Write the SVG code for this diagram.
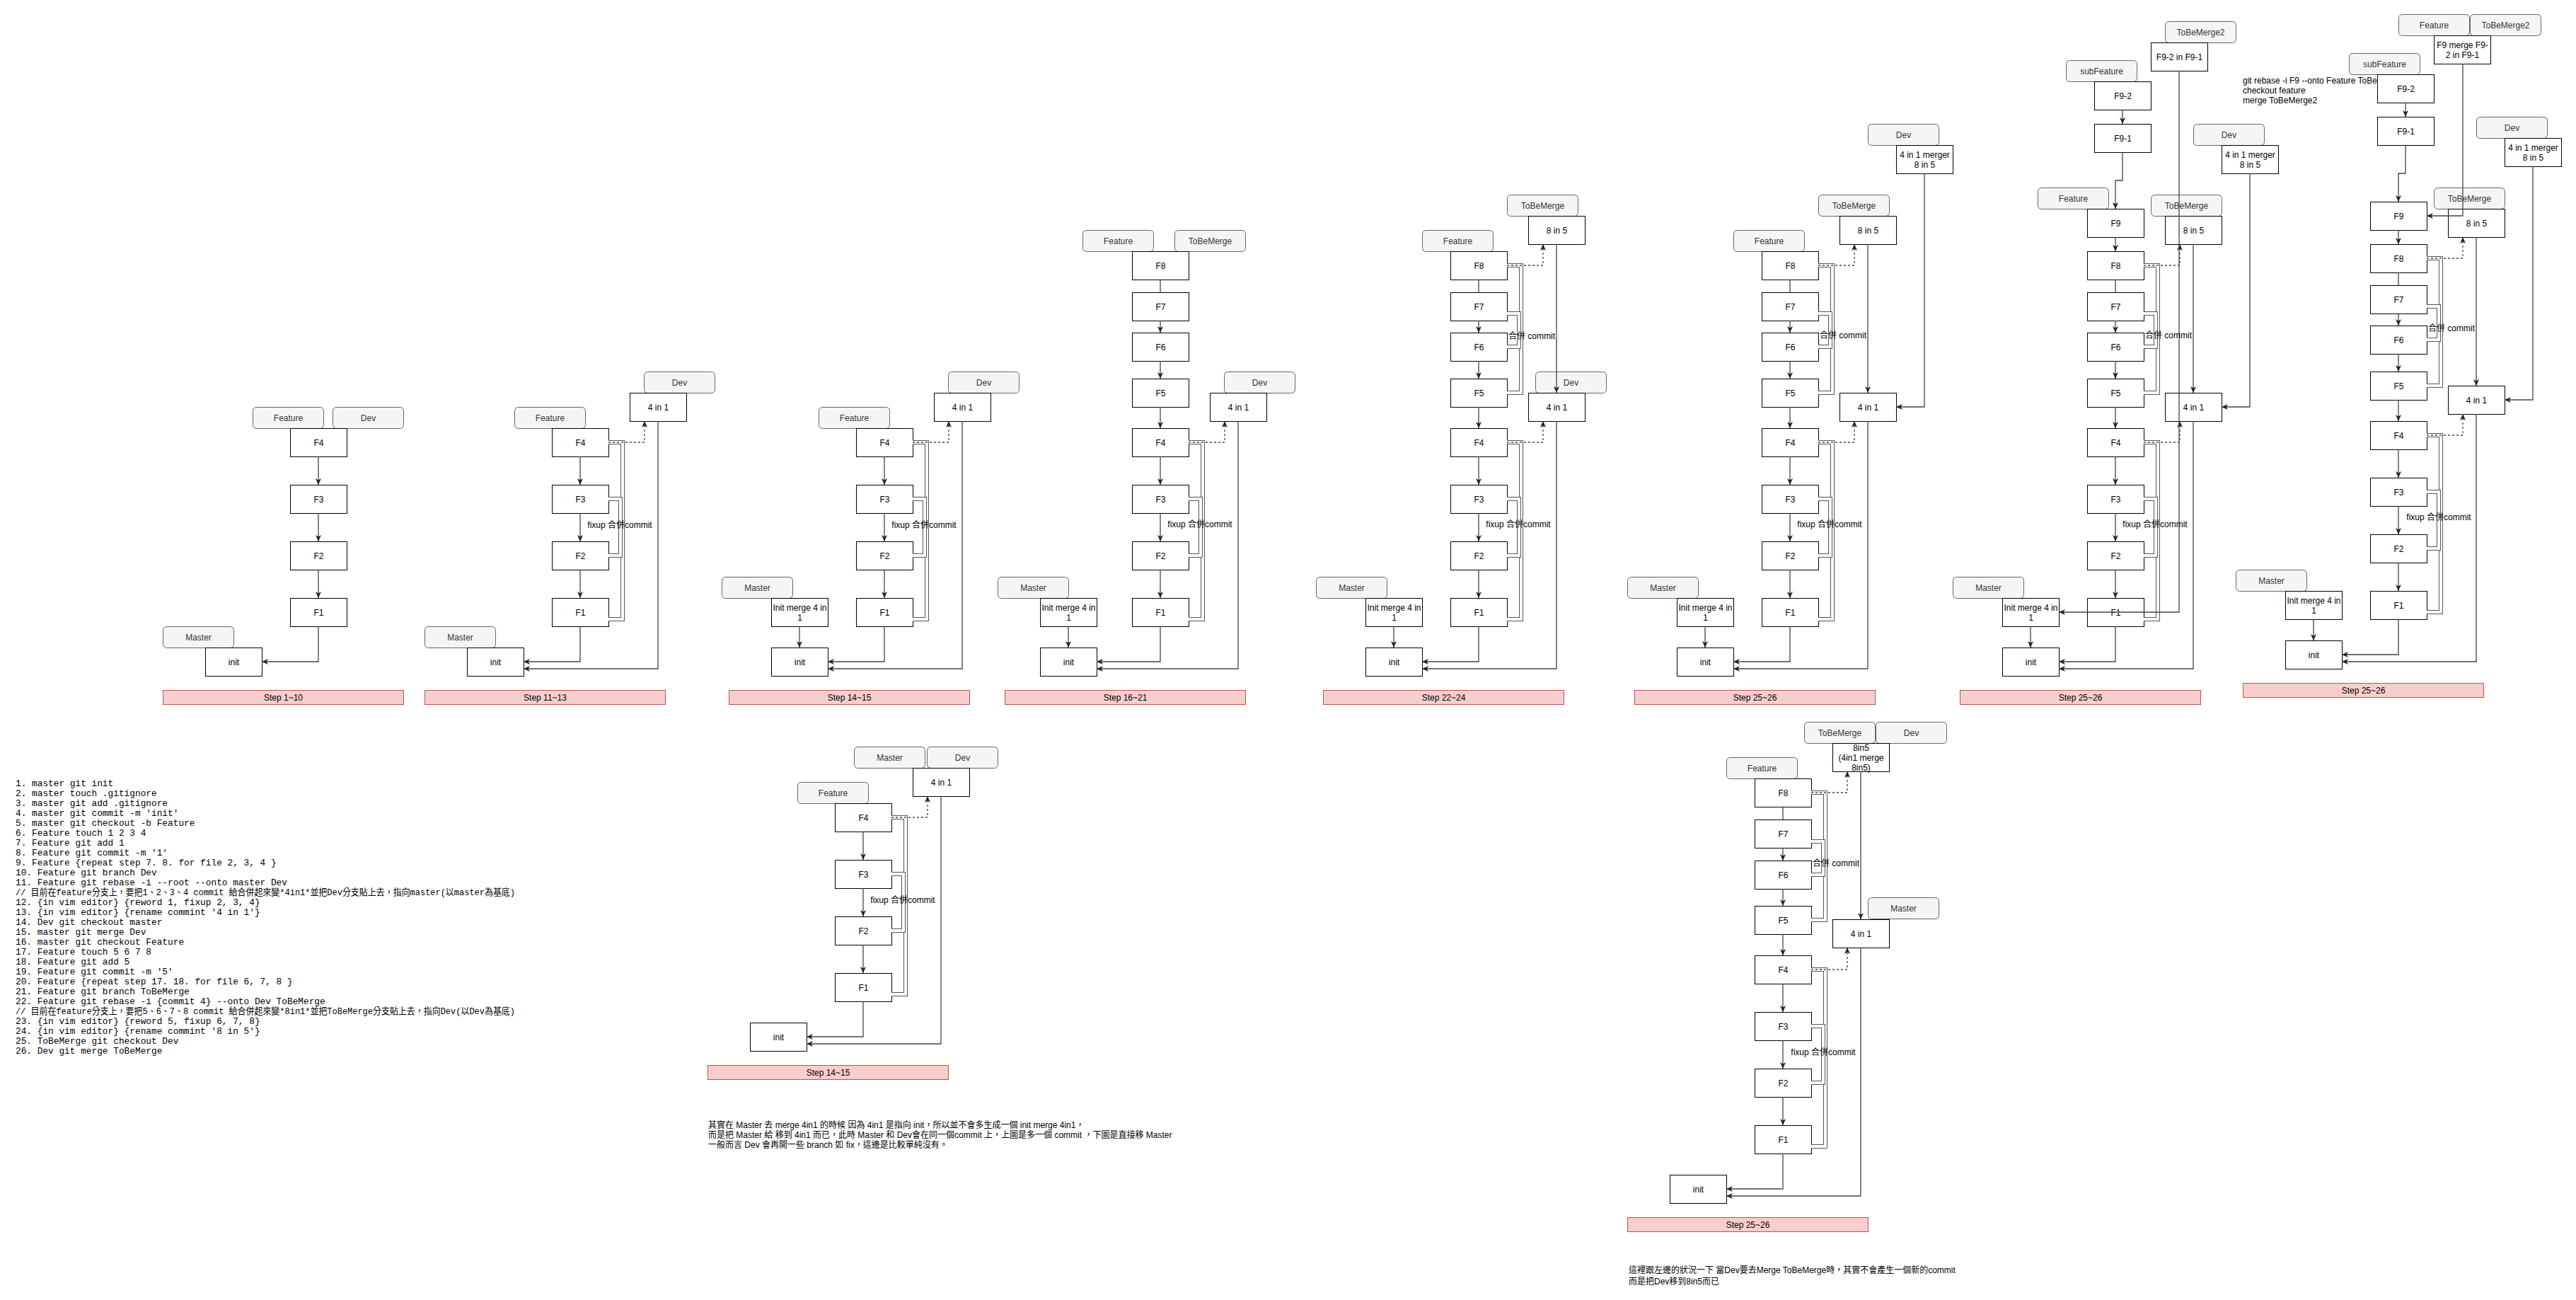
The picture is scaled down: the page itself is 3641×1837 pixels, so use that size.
<svg xmlns="http://www.w3.org/2000/svg" width="3641" height="1837" viewBox="0 0 3641 1837">
<defs>
<marker id="arr" markerUnits="userSpaceOnUse" markerWidth="9" markerHeight="8" viewBox="0 0 9 8" refX="9" refY="4" orient="auto"><path d="M0,0 L9,4 L0,8 L2.5,4 z" fill="#222"/></marker>
<style>
text{font-family:"Liberation Sans","Noto Sans CJK TC",sans-serif;font-size:12px;text-anchor:middle;dominant-baseline:central}
.l rect{fill:#f5f5f5;stroke:#666;stroke-width:1}
.l text{fill:#333}
.n rect{fill:#fff;stroke:#000;stroke-width:1}
.n text{fill:#000}
.s rect{fill:#f8cecc;stroke:#b85450;stroke-width:1}
.s text{fill:#000}
.e{fill:none;stroke:#444;stroke-width:1.3}
.a{marker-end:url(#arr)}
.d{stroke-dasharray:3 3}
.k1{fill:none;stroke:#555;stroke-width:6}
.k2{fill:none;stroke:#fff;stroke-width:4}
.el{fill:#000}
.para text{text-anchor:start;dominant-baseline:auto}
.code text{font-family:"Liberation Mono","Noto Sans CJK TC",monospace;font-size:12.8px;text-anchor:start;dominant-baseline:auto;fill:#000}
</style>
</defs>
<rect width="3641" height="1837" fill="#fff"/>

<g id="code-list" class="code">
<text x="22" y="1111">1. master git init</text>
<text x="22" y="1125">2. master touch .gitignore</text>
<text x="22" y="1139">3. master git add .gitignore</text>
<text x="22" y="1153">4. master git commit -m 'init'</text>
<text x="22" y="1167">5. master git checkout -b Feature</text>
<text x="22" y="1181">6. Feature touch 1 2 3 4</text>
<text x="22" y="1195">7. Feature git add 1</text>
<text x="22" y="1209">8. Feature git commit -m '1'</text>
<text x="22" y="1223">9. Feature {repeat step 7. 8. for file 2, 3, 4 }</text>
<text x="22" y="1237">10. Feature git branch Dev</text>
<text x="22" y="1251">11. Feature git rebase -i --root --onto master Dev</text>
<text x="22" y="1265" textLength="706" lengthAdjust="spacingAndGlyphs">// 目前在feature分支上，要把1、2、3、4 commit 給合併起來變*4in1*並把Dev分支貼上去，指向master(以master為基底)</text>
<text x="22" y="1279">12. {in vim editor} {reword 1, fixup 2, 3, 4}</text>
<text x="22" y="1293">13. {in vim editor} {rename commint '4 in 1'}</text>
<text x="22" y="1307">14. Dev git checkout master</text>
<text x="22" y="1321">15. master git merge Dev</text>
<text x="22" y="1335">16. master git checkout Feature</text>
<text x="22" y="1349">17. Feature touch 5 6 7 8</text>
<text x="22" y="1363">18. Feature git add 5</text>
<text x="22" y="1377">19. Feature git commit -m '5'</text>
<text x="22" y="1391">20. Feature {repeat step 17. 18. for file 6, 7, 8 }</text>
<text x="22" y="1405">21. Feature git branch ToBeMerge</text>
<text x="22" y="1419">22. Feature git rebase -i {commit 4} --onto Dev ToBeMerge</text>
<text x="22" y="1433" textLength="706" lengthAdjust="spacingAndGlyphs">// 目前在feature分支上，要把5、6、7、8 commit 給合併起來變*8in1*並把ToBeMerge分支貼上去，指向Dev(以Dev為基底)</text>
<text x="22" y="1447">23. {in vim editor} {reword 5, fixup 6, 7, 8}</text>
<text x="22" y="1461">24. {in vim editor} {rename commint '8 in 5'}</text>
<text x="22" y="1475">25. ToBeMerge git checkout Dev</text>
<text x="22" y="1489">26. Dev git merge ToBeMerge</text>
</g>

<g id="note-master" class="para">
<text x="1001" y="1594">其實在 Master 去 merge 4in1 的時候 因為 4in1 是指向 init，所以並不會多生成一個 init merge 4in1，</text>
<text x="1001" y="1608">而是把 Master 給 移到 4in1 而已，此時 Master 和 Dev會在同一個commit 上，上圖是多一個 commit ，下圖是直接移 Master</text>
<text x="1001" y="1622">一般而言 Dev 會再開一些 branch 如 fix，這邊是比較單純沒有。</text>
</g>
<g id="note-dev" class="para">
<text x="2302" y="1799">這裡跟左邊的狀況一下 當Dev要去Merge ToBeMerge時，其實不會產生一個新的commit</text>
<text x="2302" y="1815">而是把Dev移到8in5而已</text>
</g>
<g id="note-rebase" class="para">
<text x="3170" y="118">git rebase -i F9 --onto Feature ToBeMerge2</text>
<text x="3170" y="132">checkout feature</text>
<text x="3170" y="146">merge ToBeMerge2</text>
</g>

<g id="nodes" transform="translate(0.5 0.5)">
<!-- Panel 1 -->
<g id="p1-lbl-feature" class="l"><rect x="357" y="575" width="100" height="30" rx="5"/><text x="407" y="590">Feature</text></g>
<g id="p1-lbl-dev" class="l"><rect x="470" y="575" width="100" height="30" rx="5"/><text x="520" y="590">Dev</text></g>
<g id="p1-lbl-master" class="l"><rect x="230" y="885" width="100" height="30" rx="5"/><text x="280" y="900">Master</text></g>
<g id="p1-F4" class="n"><rect x="410" y="605" width="80" height="40"/><text x="450" y="625">F4</text></g>
<g id="p1-F3" class="n"><rect x="410" y="685" width="80" height="40"/><text x="450" y="705">F3</text></g>
<g id="p1-F2" class="n"><rect x="410" y="765" width="80" height="40"/><text x="450" y="785">F2</text></g>
<g id="p1-F1" class="n"><rect x="410" y="845" width="80" height="40"/><text x="450" y="865">F1</text></g>
<g id="p1-init" class="n"><rect x="290" y="915" width="80" height="40"/><text x="330" y="935">init</text></g>
<g id="p1-step" class="s"><rect x="230" y="975" width="340" height="20"/><text x="400" y="985">Step 1~10</text></g>

<!-- Panel 2 -->
<g id="p2-lbl-feature" class="l"><rect x="727" y="575" width="100" height="30" rx="5"/><text x="777" y="590">Feature</text></g>
<g id="p2-lbl-master" class="l"><rect x="600" y="885" width="100" height="30" rx="5"/><text x="650" y="900">Master</text></g>
<g id="p2-lbl-dev" class="l"><rect x="910" y="525" width="100" height="30" rx="5"/><text x="960" y="540">Dev</text></g>
<g id="p2-4in1" class="n"><rect x="890" y="555" width="80" height="40"/><text x="930" y="575">4 in 1</text></g>
<g id="p2-F4" class="n"><rect x="780" y="605" width="80" height="40"/><text x="820" y="625">F4</text></g>
<g id="p2-F3" class="n"><rect x="780" y="685" width="80" height="40"/><text x="820" y="705">F3</text></g>
<g id="p2-F2" class="n"><rect x="780" y="765" width="80" height="40"/><text x="820" y="785">F2</text></g>
<g id="p2-F1" class="n"><rect x="780" y="845" width="80" height="40"/><text x="820" y="865">F1</text></g>
<g id="p2-init" class="n"><rect x="660" y="915" width="80" height="40"/><text x="700" y="935">init</text></g>
<g id="p2-step" class="s"><rect x="600" y="975" width="340" height="20"/><text x="770" y="985">Step 11~13</text></g>

<!-- Panel 3 -->
<g id="p3-lbl-feature" class="l"><rect x="1157" y="575" width="100" height="30" rx="5"/><text x="1207" y="590">Feature</text></g>
<g id="p3-lbl-master" class="l"><rect x="1020" y="815" width="100" height="30" rx="5"/><text x="1070" y="830">Master</text></g>
<g id="p3-lbl-dev" class="l"><rect x="1340" y="525" width="100" height="30" rx="5"/><text x="1390" y="540">Dev</text></g>
<g id="p3-4in1" class="n"><rect x="1320" y="555" width="80" height="40"/><text x="1360" y="575">4 in 1</text></g>
<g id="p3-F4" class="n"><rect x="1210" y="605" width="80" height="40"/><text x="1250" y="625">F4</text></g>
<g id="p3-F3" class="n"><rect x="1210" y="685" width="80" height="40"/><text x="1250" y="705">F3</text></g>
<g id="p3-F2" class="n"><rect x="1210" y="765" width="80" height="40"/><text x="1250" y="785">F2</text></g>
<g id="p3-F1" class="n"><rect x="1210" y="845" width="80" height="40"/><text x="1250" y="865">F1</text></g>
<g id="p3-initmerge" class="n"><rect x="1090" y="845" width="80" height="40"/><text x="1130" y="858">Init merge 4 in</text><text x="1130" y="872">1</text></g>
<g id="p3-init" class="n"><rect x="1090" y="915" width="80" height="40"/><text x="1130" y="935">init</text></g>
<g id="p3-step" class="s"><rect x="1030" y="975" width="340" height="20"/><text x="1200" y="985">Step 14~15</text></g>

<!-- Panel 4 -->
<g id="p4-lbl-feature" class="l"><rect x="1530" y="325" width="100" height="30" rx="5"/><text x="1580" y="340">Feature</text></g>
<g id="p4-lbl-tobemerge" class="l"><rect x="1660" y="325" width="100" height="30" rx="5"/><text x="1710" y="340">ToBeMerge</text></g>
<g id="p4-lbl-master" class="l"><rect x="1410" y="815" width="100" height="30" rx="5"/><text x="1460" y="830">Master</text></g>
<g id="p4-lbl-dev" class="l"><rect x="1730" y="525" width="100" height="30" rx="5"/><text x="1780" y="540">Dev</text></g>
<g id="p4-F8" class="n"><rect x="1600" y="355" width="80" height="40"/><text x="1640" y="375">F8</text></g>
<g id="p4-F7" class="n"><rect x="1600" y="413" width="80" height="40"/><text x="1640" y="433">F7</text></g>
<g id="p4-F6" class="n"><rect x="1600" y="470" width="80" height="40"/><text x="1640" y="490">F6</text></g>
<g id="p4-F5" class="n"><rect x="1600" y="535" width="80" height="40"/><text x="1640" y="555">F5</text></g>
<g id="p4-F4" class="n"><rect x="1600" y="605" width="80" height="40"/><text x="1640" y="625">F4</text></g>
<g id="p4-F3" class="n"><rect x="1600" y="685" width="80" height="40"/><text x="1640" y="705">F3</text></g>
<g id="p4-F2" class="n"><rect x="1600" y="765" width="80" height="40"/><text x="1640" y="785">F2</text></g>
<g id="p4-F1" class="n"><rect x="1600" y="845" width="80" height="40"/><text x="1640" y="865">F1</text></g>
<g id="p4-4in1" class="n"><rect x="1710" y="555" width="80" height="40"/><text x="1750" y="575">4 in 1</text></g>
<g id="p4-initmerge" class="n"><rect x="1470" y="845" width="80" height="40"/><text x="1510" y="858">Init merge 4 in</text><text x="1510" y="872">1</text></g>
<g id="p4-init" class="n"><rect x="1470" y="915" width="80" height="40"/><text x="1510" y="935">init</text></g>
<g id="p4-step" class="s"><rect x="1420" y="975" width="340" height="20"/><text x="1590" y="985">Step 16~21</text></g>

<!-- Panel 5 -->
<g id="p5-lbl-tobemerge" class="l"><rect x="2130" y="275" width="100" height="30" rx="5"/><text x="2180" y="290">ToBeMerge</text></g>
<g id="p5-lbl-feature" class="l"><rect x="2010" y="325" width="100" height="30" rx="5"/><text x="2060" y="340">Feature</text></g>
<g id="p5-lbl-dev" class="l"><rect x="2170" y="525" width="100" height="30" rx="5"/><text x="2220" y="540">Dev</text></g>
<g id="p5-lbl-master" class="l"><rect x="1860" y="815" width="100" height="30" rx="5"/><text x="1910" y="830">Master</text></g>
<g id="p5-8in5" class="n"><rect x="2160" y="305" width="80" height="40"/><text x="2200" y="325">8 in 5</text></g>
<g id="p5-F8" class="n"><rect x="2050" y="355" width="80" height="40"/><text x="2090" y="375">F8</text></g>
<g id="p5-F7" class="n"><rect x="2050" y="413" width="80" height="40"/><text x="2090" y="433">F7</text></g>
<g id="p5-F6" class="n"><rect x="2050" y="470" width="80" height="40"/><text x="2090" y="490">F6</text></g>
<g id="p5-F5" class="n"><rect x="2050" y="535" width="80" height="40"/><text x="2090" y="555">F5</text></g>
<g id="p5-F4" class="n"><rect x="2050" y="605" width="80" height="40"/><text x="2090" y="625">F4</text></g>
<g id="p5-F3" class="n"><rect x="2050" y="685" width="80" height="40"/><text x="2090" y="705">F3</text></g>
<g id="p5-F2" class="n"><rect x="2050" y="765" width="80" height="40"/><text x="2090" y="785">F2</text></g>
<g id="p5-F1" class="n"><rect x="2050" y="845" width="80" height="40"/><text x="2090" y="865">F1</text></g>
<g id="p5-4in1" class="n"><rect x="2160" y="555" width="80" height="40"/><text x="2200" y="575">4 in 1</text></g>
<g id="p5-initmerge" class="n"><rect x="1930" y="845" width="80" height="40"/><text x="1970" y="858">Init merge 4 in</text><text x="1970" y="872">1</text></g>
<g id="p5-init" class="n"><rect x="1930" y="915" width="80" height="40"/><text x="1970" y="935">init</text></g>
<g id="p5-step" class="s"><rect x="1870" y="975" width="340" height="20"/><text x="2040" y="985">Step 22~24</text></g>

<!-- Panel 6 -->
<g id="p6-lbl-dev" class="l"><rect x="2640" y="175" width="100" height="30" rx="5"/><text x="2690" y="190">Dev</text></g>
<g id="p6-lbl-tobemerge" class="l"><rect x="2570" y="275" width="100" height="30" rx="5"/><text x="2620" y="290">ToBeMerge</text></g>
<g id="p6-lbl-feature" class="l"><rect x="2450" y="325" width="100" height="30" rx="5"/><text x="2500" y="340">Feature</text></g>
<g id="p6-lbl-master" class="l"><rect x="2300" y="815" width="100" height="30" rx="5"/><text x="2350" y="830">Master</text></g>
<g id="p6-merger" class="n"><rect x="2680" y="205" width="80" height="40"/><text x="2720" y="218">4 in 1 merger</text><text x="2720" y="232">8 in 5</text></g>
<g id="p6-8in5" class="n"><rect x="2600" y="305" width="80" height="40"/><text x="2640" y="325">8 in 5</text></g>
<g id="p6-F8" class="n"><rect x="2490" y="355" width="80" height="40"/><text x="2530" y="375">F8</text></g>
<g id="p6-F7" class="n"><rect x="2490" y="413" width="80" height="40"/><text x="2530" y="433">F7</text></g>
<g id="p6-F6" class="n"><rect x="2490" y="470" width="80" height="40"/><text x="2530" y="490">F6</text></g>
<g id="p6-F5" class="n"><rect x="2490" y="535" width="80" height="40"/><text x="2530" y="555">F5</text></g>
<g id="p6-F4" class="n"><rect x="2490" y="605" width="80" height="40"/><text x="2530" y="625">F4</text></g>
<g id="p6-F3" class="n"><rect x="2490" y="685" width="80" height="40"/><text x="2530" y="705">F3</text></g>
<g id="p6-F2" class="n"><rect x="2490" y="765" width="80" height="40"/><text x="2530" y="785">F2</text></g>
<g id="p6-F1" class="n"><rect x="2490" y="845" width="80" height="40"/><text x="2530" y="865">F1</text></g>
<g id="p6-4in1" class="n"><rect x="2600" y="555" width="80" height="40"/><text x="2640" y="575">4 in 1</text></g>
<g id="p6-initmerge" class="n"><rect x="2370" y="845" width="80" height="40"/><text x="2410" y="858">Init merge 4 in</text><text x="2410" y="872">1</text></g>
<g id="p6-init" class="n"><rect x="2370" y="915" width="80" height="40"/><text x="2410" y="935">init</text></g>
<g id="p6-step" class="s"><rect x="2310" y="975" width="340" height="20"/><text x="2480" y="985">Step 25~26</text></g>

<!-- Panel 7 -->
<g id="p7-lbl-tobemerge2" class="l"><rect x="3060" y="30" width="100" height="30" rx="5"/><text x="3110" y="45">ToBeMerge2</text></g>
<g id="p7-lbl-subfeature" class="l"><rect x="2920" y="85" width="100" height="30" rx="5"/><text x="2970" y="100">subFeature</text></g>
<g id="p7-lbl-feature" class="l"><rect x="2880" y="265" width="100" height="30" rx="5"/><text x="2930" y="280">Feature</text></g>
<g id="p7-lbl-dev" class="l"><rect x="3100" y="175" width="100" height="30" rx="5"/><text x="3150" y="190">Dev</text></g>
<g id="p7-lbl-tobemerge" class="l"><rect x="3040" y="275" width="100" height="30" rx="5"/><text x="3090" y="290">ToBeMerge</text></g>
<g id="p7-lbl-master" class="l"><rect x="2760" y="815" width="100" height="30" rx="5"/><text x="2810" y="830">Master</text></g>
<g id="p7-F92inF91" class="n"><rect x="3040" y="60" width="80" height="40"/><text x="3080" y="80">F9-2 in F9-1</text></g>
<g id="p7-F9-2" class="n"><rect x="2960" y="115" width="80" height="40"/><text x="3000" y="135">F9-2</text></g>
<g id="p7-F9-1" class="n"><rect x="2960" y="175" width="80" height="40"/><text x="3000" y="195">F9-1</text></g>
<g id="p7-merger" class="n"><rect x="3140" y="205" width="80" height="40"/><text x="3180" y="218">4 in 1 merger</text><text x="3180" y="232">8 in 5</text></g>
<g id="p7-F9" class="n"><rect x="2950" y="295" width="80" height="40"/><text x="2990" y="315">F9</text></g>
<g id="p7-F8" class="n"><rect x="2950" y="355" width="80" height="40"/><text x="2990" y="375">F8</text></g>
<g id="p7-F7" class="n"><rect x="2950" y="413" width="80" height="40"/><text x="2990" y="433">F7</text></g>
<g id="p7-F6" class="n"><rect x="2950" y="470" width="80" height="40"/><text x="2990" y="490">F6</text></g>
<g id="p7-F5" class="n"><rect x="2950" y="535" width="80" height="40"/><text x="2990" y="555">F5</text></g>
<g id="p7-F4" class="n"><rect x="2950" y="605" width="80" height="40"/><text x="2990" y="625">F4</text></g>
<g id="p7-F3" class="n"><rect x="2950" y="685" width="80" height="40"/><text x="2990" y="705">F3</text></g>
<g id="p7-F2" class="n"><rect x="2950" y="765" width="80" height="40"/><text x="2990" y="785">F2</text></g>
<g id="p7-F1" class="n"><rect x="2950" y="845" width="80" height="40"/><text x="2990" y="865">F1</text></g>
<g id="p7-8in5" class="n"><rect x="3060" y="305" width="80" height="40"/><text x="3100" y="325">8 in 5</text></g>
<g id="p7-4in1" class="n"><rect x="3060" y="555" width="80" height="40"/><text x="3100" y="575">4 in 1</text></g>
<g id="p7-initmerge" class="n"><rect x="2830" y="845" width="80" height="40"/><text x="2870" y="858">Init merge 4 in</text><text x="2870" y="872">1</text></g>
<g id="p7-init" class="n"><rect x="2830" y="915" width="80" height="40"/><text x="2870" y="935">init</text></g>
<g id="p7-step" class="s"><rect x="2770" y="975" width="340" height="20"/><text x="2940" y="985">Step 25~26</text></g>

<!-- Panel 8 -->
<g id="p8-lbl-feature" class="l"><rect x="3390" y="20" width="100" height="30" rx="5"/><text x="3440" y="35">Feature</text></g>
<g id="p8-lbl-tobemerge2" class="l"><rect x="3491" y="20" width="100" height="30" rx="5"/><text x="3541" y="35">ToBeMerge2</text></g>
<g id="p8-lbl-subfeature" class="l"><rect x="3320" y="75" width="100" height="30" rx="5"/><text x="3370" y="90">subFeature</text></g>
<g id="p8-lbl-dev" class="l"><rect x="3500" y="165" width="100" height="30" rx="5"/><text x="3550" y="180">Dev</text></g>
<g id="p8-lbl-tobemerge" class="l"><rect x="3440" y="265" width="100" height="30" rx="5"/><text x="3490" y="280">ToBeMerge</text></g>
<g id="p8-lbl-master" class="l"><rect x="3160" y="805" width="100" height="30" rx="5"/><text x="3210" y="820">Master</text></g>
<g id="p8-F9merge" class="n"><rect x="3440" y="50" width="80" height="40"/><text x="3480" y="63">F9 merge F9-</text><text x="3480" y="77">2 in F9-1</text></g>
<g id="p8-F9-2" class="n"><rect x="3360" y="105" width="80" height="40"/><text x="3400" y="125">F9-2</text></g>
<g id="p8-F9-1" class="n"><rect x="3360" y="165" width="80" height="40"/><text x="3400" y="185">F9-1</text></g>
<g id="p8-merger" class="n"><rect x="3540" y="195" width="80" height="40"/><text x="3580" y="208">4 in 1 merger</text><text x="3580" y="222">8 in 5</text></g>
<g id="p8-8in5" class="n"><rect x="3460" y="295" width="80" height="40"/><text x="3500" y="315">8 in 5</text></g>
<g id="p8-F9" class="n"><rect x="3350" y="285" width="80" height="40"/><text x="3390" y="305">F9</text></g>
<g id="p8-F8" class="n"><rect x="3350" y="345" width="80" height="40"/><text x="3390" y="365">F8</text></g>
<g id="p8-F7" class="n"><rect x="3350" y="403" width="80" height="40"/><text x="3390" y="423">F7</text></g>
<g id="p8-F6" class="n"><rect x="3350" y="460" width="80" height="40"/><text x="3390" y="480">F6</text></g>
<g id="p8-F5" class="n"><rect x="3350" y="525" width="80" height="40"/><text x="3390" y="545">F5</text></g>
<g id="p8-F4" class="n"><rect x="3350" y="595" width="80" height="40"/><text x="3390" y="615">F4</text></g>
<g id="p8-F3" class="n"><rect x="3350" y="675" width="80" height="40"/><text x="3390" y="695">F3</text></g>
<g id="p8-F2" class="n"><rect x="3350" y="755" width="80" height="40"/><text x="3390" y="775">F2</text></g>
<g id="p8-F1" class="n"><rect x="3350" y="835" width="80" height="40"/><text x="3390" y="855">F1</text></g>
<g id="p8-4in1" class="n"><rect x="3460" y="545" width="80" height="40"/><text x="3500" y="565">4 in 1</text></g>
<g id="p8-initmerge" class="n"><rect x="3230" y="835" width="80" height="40"/><text x="3270" y="848">Init merge 4 in</text><text x="3270" y="862">1</text></g>
<g id="p8-init" class="n"><rect x="3230" y="905" width="80" height="40"/><text x="3270" y="925">init</text></g>
<g id="p8-step" class="s"><rect x="3170" y="965" width="340" height="20"/><text x="3340" y="975">Step 25~26</text></g>

<!-- Panel 9 -->
<g id="p9-lbl-master" class="l"><rect x="1207" y="1055" width="100" height="30" rx="5"/><text x="1257" y="1070">Master</text></g>
<g id="p9-lbl-dev" class="l"><rect x="1310" y="1055" width="100" height="30" rx="5"/><text x="1360" y="1070">Dev</text></g>
<g id="p9-lbl-feature" class="l"><rect x="1127" y="1105" width="100" height="30" rx="5"/><text x="1177" y="1120">Feature</text></g>
<g id="p9-4in1" class="n"><rect x="1290" y="1085" width="80" height="40"/><text x="1330" y="1105">4 in 1</text></g>
<g id="p9-F4" class="n"><rect x="1180" y="1135" width="80" height="40"/><text x="1220" y="1155">F4</text></g>
<g id="p9-F3" class="n"><rect x="1180" y="1215" width="80" height="40"/><text x="1220" y="1235">F3</text></g>
<g id="p9-F2" class="n"><rect x="1180" y="1295" width="80" height="40"/><text x="1220" y="1315">F2</text></g>
<g id="p9-F1" class="n"><rect x="1180" y="1375" width="80" height="40"/><text x="1220" y="1395">F1</text></g>
<g id="p9-init" class="n"><rect x="1060" y="1445" width="80" height="40"/><text x="1100" y="1465">init</text></g>
<g id="p9-step" class="s"><rect x="1000" y="1505" width="340" height="20"/><text x="1170" y="1515">Step 14~15</text></g>

<!-- Panel 10 -->
<g id="p10-lbl-tobemerge" class="l"><rect x="2550" y="1020" width="100" height="30" rx="5"/><text x="2600" y="1035">ToBeMerge</text></g>
<g id="p10-lbl-dev" class="l"><rect x="2651" y="1020" width="100" height="30" rx="5"/><text x="2701" y="1035">Dev</text></g>
<g id="p10-lbl-feature" class="l"><rect x="2440" y="1070" width="100" height="30" rx="5"/><text x="2490" y="1085">Feature</text></g>
<g id="p10-lbl-master" class="l"><rect x="2640" y="1268" width="100" height="30" rx="5"/><text x="2690" y="1283">Master</text></g>
<g id="p10-8in5merge" class="n"><rect x="2590" y="1050" width="80" height="40"/><text x="2630" y="1056">8in5</text><text x="2630" y="1070">(4in1 merge</text><text x="2630" y="1084">8in5)</text></g>
<g id="p10-F8" class="n"><rect x="2480" y="1100" width="80" height="40"/><text x="2520" y="1120">F8</text></g>
<g id="p10-F7" class="n"><rect x="2480" y="1158" width="80" height="40"/><text x="2520" y="1178">F7</text></g>
<g id="p10-F6" class="n"><rect x="2480" y="1216" width="80" height="40"/><text x="2520" y="1236">F6</text></g>
<g id="p10-F5" class="n"><rect x="2480" y="1280" width="80" height="40"/><text x="2520" y="1300">F5</text></g>
<g id="p10-F4" class="n"><rect x="2480" y="1350" width="80" height="40"/><text x="2520" y="1370">F4</text></g>
<g id="p10-F3" class="n"><rect x="2480" y="1430" width="80" height="40"/><text x="2520" y="1450">F3</text></g>
<g id="p10-F2" class="n"><rect x="2480" y="1510" width="80" height="40"/><text x="2520" y="1530">F2</text></g>
<g id="p10-F1" class="n"><rect x="2480" y="1590" width="80" height="40"/><text x="2520" y="1610">F1</text></g>
<g id="p10-4in1" class="n"><rect x="2590" y="1299" width="80" height="40"/><text x="2630" y="1319">4 in 1</text></g>
<g id="p10-init" class="n"><rect x="2360" y="1660" width="80" height="40"/><text x="2400" y="1680">init</text></g>
<g id="p10-step" class="s"><rect x="2300" y="1720" width="340" height="20"/><text x="2470" y="1730">Step 25~26</text></g>
</g>

<g id="connectors">
<g id="links">
<path class="k1" d="M860,625H880V875H860"/><path class="k2" d="M860,625H880V875H860"/>
<path class="k1" d="M860,705H877V785H860"/><path class="k2" d="M860,705H877V785H860"/>
<path class="k1" d="M1290,625H1310V875H1290"/><path class="k2" d="M1290,625H1310V875H1290"/>
<path class="k1" d="M1290,705H1307V785H1290"/><path class="k2" d="M1290,705H1307V785H1290"/>
<path class="k1" d="M1680,625H1700V875H1680"/><path class="k2" d="M1680,625H1700V875H1680"/>
<path class="k1" d="M1680,705H1697V785H1680"/><path class="k2" d="M1680,705H1697V785H1680"/>
<path class="k1" d="M2130,375H2150V555H2130"/><path class="k2" d="M2130,375H2150V555H2130"/>
<path class="k1" d="M2130,443H2147V490H2130"/><path class="k2" d="M2130,443H2147V490H2130"/>
<path class="k1" d="M2130,625H2150V875H2130"/><path class="k2" d="M2130,625H2150V875H2130"/>
<path class="k1" d="M2130,705H2147V785H2130"/><path class="k2" d="M2130,705H2147V785H2130"/>
<path class="k1" d="M2570,375H2590V555H2570"/><path class="k2" d="M2570,375H2590V555H2570"/>
<path class="k1" d="M2570,443H2587V490H2570"/><path class="k2" d="M2570,443H2587V490H2570"/>
<path class="k1" d="M2570,625H2590V875H2570"/><path class="k2" d="M2570,625H2590V875H2570"/>
<path class="k1" d="M2570,705H2587V785H2570"/><path class="k2" d="M2570,705H2587V785H2570"/>
<path class="k1" d="M3030,375H3050V555H3030"/><path class="k2" d="M3030,375H3050V555H3030"/>
<path class="k1" d="M3030,443H3047V490H3030"/><path class="k2" d="M3030,443H3047V490H3030"/>
<path class="k1" d="M3030,625H3050V875H3030"/><path class="k2" d="M3030,625H3050V875H3030"/>
<path class="k1" d="M3030,705H3047V785H3030"/><path class="k2" d="M3030,705H3047V785H3030"/>
<path class="k1" d="M3430,365H3450V545H3430"/><path class="k2" d="M3430,365H3450V545H3430"/>
<path class="k1" d="M3430,433H3447V480H3430"/><path class="k2" d="M3430,433H3447V480H3430"/>
<path class="k1" d="M3430,615H3450V865H3430"/><path class="k2" d="M3430,615H3450V865H3430"/>
<path class="k1" d="M3430,695H3447V775H3430"/><path class="k2" d="M3430,695H3447V775H3430"/>
<path class="k1" d="M1260,1155H1280V1405H1260"/><path class="k2" d="M1260,1155H1280V1405H1260"/>
<path class="k1" d="M1260,1235H1277V1315H1260"/><path class="k2" d="M1260,1235H1277V1315H1260"/>
<path class="k1" d="M2560,1120H2580V1300H2560"/><path class="k2" d="M2560,1120H2580V1300H2560"/>
<path class="k1" d="M2560,1189H2577V1236H2560"/><path class="k2" d="M2560,1189H2577V1236H2560"/>
<path class="k1" d="M2560,1370H2580V1620H2560"/><path class="k2" d="M2560,1370H2580V1620H2560"/>
<path class="k1" d="M2560,1450H2577V1530H2560"/><path class="k2" d="M2560,1450H2577V1530H2560"/>
</g>
<!-- Panel 1 -->
<path class="e a" d="M450,645V685"/><path class="e a" d="M450,725V765"/><path class="e a" d="M450,805V845"/><path class="e a" d="M450,885V935H370"/>
<!-- Panel 2 -->
<path class="e a" d="M820,645V685"/><path class="e a" d="M820,725V765"/><path class="e a" d="M820,805V845"/><path class="e a" d="M820,885V935H740"/>
<path class="e a" d="M930,595V945H740"/><path class="e a d" d="M860,625H911V595"/>
<!-- Panel 3 -->
<path class="e a" d="M1250,645V685"/><path class="e a" d="M1250,725V765"/><path class="e a" d="M1250,805V845"/><path class="e a" d="M1250,885V935H1170"/>
<path class="e a" d="M1130,885V915"/><path class="e a" d="M1360,595V945H1170"/><path class="e a d" d="M1290,625H1341V595"/>
<!-- Panel 4 -->
<path class="e" d="M1640,395V413"/><path class="e a" d="M1640,453V470"/><path class="e a" d="M1640,510V535"/><path class="e a" d="M1640,575V605"/>
<path class="e a" d="M1640,645V685"/><path class="e a" d="M1640,725V765"/><path class="e a" d="M1640,805V845"/><path class="e a" d="M1640,885V935H1550"/>
<path class="e a" d="M1510,885V915"/><path class="e a" d="M1750,595V945H1550"/><path class="e a d" d="M1680,625H1731V595"/>
<!-- Panel 5 -->
<path class="e" d="M2090,395V413"/><path class="e a" d="M2090,453V470"/><path class="e a" d="M2090,510V535"/><path class="e a" d="M2090,575V605"/>
<path class="e a" d="M2090,645V685"/><path class="e a" d="M2090,725V765"/><path class="e a" d="M2090,805V845"/><path class="e a" d="M2090,885V935H2010"/>
<path class="e a" d="M1970,885V915"/><path class="e a" d="M2200,345V555"/><path class="e a" d="M2200,595V945H2010"/>
<path class="e a d" d="M2130,375H2181V345"/><path class="e a d" d="M2130,625H2181V595"/>
<!-- Panel 6 -->
<path class="e" d="M2530,395V413"/><path class="e a" d="M2530,453V470"/><path class="e a" d="M2530,510V535"/><path class="e a" d="M2530,575V605"/>
<path class="e a" d="M2530,645V685"/><path class="e a" d="M2530,725V765"/><path class="e a" d="M2530,805V845"/><path class="e a" d="M2530,885V935H2450"/>
<path class="e a" d="M2410,885V915"/><path class="e a" d="M2640,345V555"/><path class="e a" d="M2640,595V945H2450"/><path class="e a" d="M2720,245V575H2680"/>
<path class="e a d" d="M2570,375H2621V345"/><path class="e a d" d="M2570,625H2621V595"/>
<!-- Panel 7 -->
<path class="e a" d="M3000,155V175"/><path class="e a" d="M3000,215V255H2990V295"/><path class="e a" d="M2990,335V355"/>
<path class="e" d="M2990,395V413"/><path class="e a" d="M2990,453V470"/><path class="e a" d="M2990,510V535"/><path class="e a" d="M2990,575V605"/>
<path class="e a" d="M2990,645V685"/><path class="e a" d="M2990,725V765"/><path class="e a" d="M2990,805V845"/><path class="e a" d="M2990,885V935H2910"/>
<path class="e a" d="M2870,885V915"/><path class="e a" d="M3100,345V555"/><path class="e a" d="M3100,595V945H2910"/><path class="e a" d="M3180,245V575H3140"/>
<path class="e a d" d="M3030,375H3081V345"/><path class="e a d" d="M3030,625H3081V595"/>
<path class="e a" d="M3080,100V865H2910"/>
<!-- Panel 8 -->
<path class="e a" d="M3400,145V165"/><path class="e a" d="M3400,205V245H3390V285"/><path class="e a" d="M3390,325V345"/>
<path class="e" d="M3390,385V403"/><path class="e a" d="M3390,443V460"/><path class="e a" d="M3390,500V525"/><path class="e a" d="M3390,565V595"/>
<path class="e a" d="M3390,635V675"/><path class="e a" d="M3390,715V755"/><path class="e a" d="M3390,795V835"/><path class="e a" d="M3390,875V925H3310"/>
<path class="e a" d="M3270,875V905"/><path class="e a" d="M3500,335V545"/><path class="e a" d="M3500,585V935H3310"/><path class="e a" d="M3580,235V565H3540"/>
<path class="e a d" d="M3430,365H3481V335"/><path class="e a d" d="M3430,615H3481V585"/>
<path class="e a" d="M3481,90V305H3430"/>
<!-- Panel 9 -->
<path class="e a" d="M1220,1175V1215"/><path class="e a" d="M1220,1255V1295"/><path class="e a" d="M1220,1335V1375"/><path class="e a" d="M1220,1415V1465H1140"/>
<path class="e a" d="M1330,1125V1475H1140"/><path class="e a d" d="M1260,1155H1311V1125"/>
<!-- Panel 10 -->
<path class="e" d="M2520,1140V1158"/><path class="e a" d="M2520,1198V1216"/><path class="e a" d="M2520,1256V1280"/><path class="e a" d="M2520,1320V1350"/>
<path class="e a" d="M2520,1390V1430"/><path class="e a" d="M2520,1470V1510"/><path class="e a" d="M2520,1550V1590"/><path class="e a" d="M2520,1630V1680H2440"/>
<path class="e a" d="M2630,1090V1299"/><path class="e a" d="M2630,1339V1690H2440"/>
<path class="e a d" d="M2560,1120H2611V1090"/><path class="e a d" d="M2560,1370H2611V1339"/>

<g id="edge-labels" class="el">
<text x="876" y="742">fixup 合併commit</text>
<text x="1306" y="742">fixup 合併commit</text>
<text x="1696" y="741">fixup 合併commit</text>
<text x="2146" y="741">fixup 合併commit</text>
<text x="2165" y="475">合併 commit</text>
<text x="2586" y="741">fixup 合併commit</text>
<text x="2605" y="474">合併 commit</text>
<text x="3046" y="741">fixup 合併commit</text>
<text x="3065" y="474">合併 commit</text>
<text x="3447" y="731">fixup 合併commit</text>
<text x="3465" y="464">合併 commit</text>
<text x="1276" y="1272">fixup 合併commit</text>
<text x="2577" y="1487">fixup 合併commit</text>
<text x="2595" y="1220">合併 commit</text>
</g>
</g>
</svg>
